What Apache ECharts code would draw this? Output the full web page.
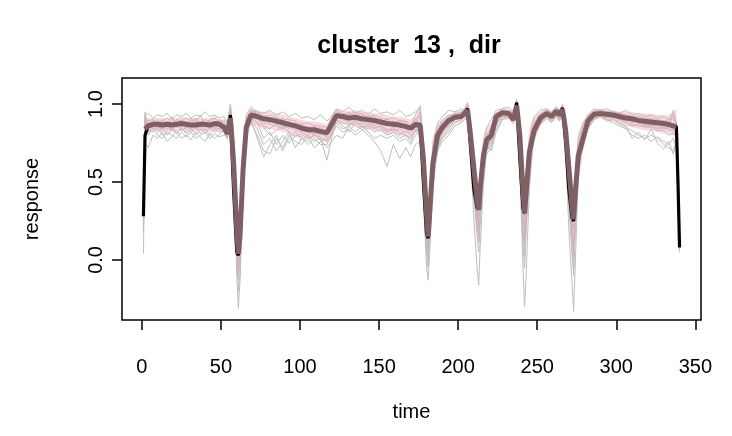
<!DOCTYPE html>
<html><head><meta charset="utf-8">
<script src="https://cdn.jsdelivr.net/npm/echarts@6/dist/echarts.min.js"></script>
<style>html,body{margin:0;padding:0;background:#fff}#c{width:732px;height:436px}</style>
</head><body><div id="c"></div>
<script>
const time = [
1, 2, 4, 7, 10, 13, 16, 19, 22, 25,
28, 31, 34, 37, 40, 43, 46, 49, 52, 54,
56, 58, 60, 61, 62, 64, 66, 69, 73, 77,
81, 85, 89, 93, 97, 101, 105, 109, 113, 117,
120, 123, 127, 131, 135, 139, 143, 147, 151, 155,
159, 163, 167, 170, 173, 176, 178, 180, 181, 182,
184, 187, 190, 194, 198, 202, 204, 206, 208, 210,
212, 213, 214, 216, 218, 221, 224, 228, 232, 235,
237, 239, 241, 242, 243, 245, 248, 252, 256, 259,
262, 264, 266, 268, 270, 272, 273, 274, 276, 279,
282, 286, 290, 294, 298, 302, 306, 310, 314, 318,
322, 326, 330, 333, 336, 338, 339, 340];

const meanResp = [
null, 0.84, 0.86, 0.87, 0.87, 0.865, 0.87, 0.865, 0.87, 0.875,
0.87, 0.865, 0.865, 0.87, 0.87, 0.865, 0.875, 0.87, 0.85, 0.81,
0.91, 0.63, 0.20, 0.04, 0.15, 0.58, 0.85, 0.93, 0.92, 0.905,
0.90, 0.89, 0.88, 0.87, 0.86, 0.845, 0.835, 0.835, 0.825, 0.815,
0.87, 0.925, 0.92, 0.91, 0.915, 0.905, 0.90, 0.895, 0.885, 0.875,
0.87, 0.865, 0.855, 0.845, 0.87, 0.86, 0.65, 0.30, 0.15, 0.30,
0.62, 0.80, 0.85, 0.895, 0.915, 0.92, 0.94, 0.96, 0.78, 0.58,
0.38, 0.32, 0.47, 0.67, 0.77, 0.80, 0.92, 0.945, 0.94, 0.90,
0.99, 0.80, 0.44, 0.30, 0.43, 0.69, 0.83, 0.91, 0.94, 0.92,
0.955, 0.93, 0.965, 0.83, 0.59, 0.35, 0.26, 0.42, 0.67, 0.78,
0.89, 0.935, 0.94, 0.935, 0.93, 0.92, 0.91, 0.905, 0.895, 0.89,
0.885, 0.88, 0.875, 0.87, 0.86, 0.855, null, null];

const bandLow = [
null, 0.78, 0.81, 0.83, 0.83, 0.82, 0.83, 0.82, 0.83, 0.83,
0.83, 0.82, 0.82, 0.83, 0.83, 0.82, 0.83, 0.83, 0.81, 0.76,
0.84, 0.45, 0.02, -0.07, -0.03, 0.40, 0.75, 0.88, 0.86, 0.84,
0.84, 0.83, 0.82, 0.81, 0.80, 0.79, 0.78, 0.78, 0.77, 0.75,
0.80, 0.87, 0.87, 0.86, 0.86, 0.85, 0.84, 0.83, 0.82, 0.80,
0.81, 0.80, 0.79, 0.78, 0.82, 0.80, 0.45, 0.15, 0.08, 0.12,
0.45, 0.72, 0.80, 0.85, 0.88, 0.88, 0.90, 0.90, 0.65, 0.40,
0.22, 0.12, 0.28, 0.55, 0.70, 0.74, 0.87, 0.91, 0.90, 0.86,
0.93, 0.60, 0.20, 0.05, 0.15, 0.45, 0.75, 0.86, 0.90, 0.88,
0.91, 0.89, 0.92, 0.70, 0.40, 0.10, -0.03, 0.15, 0.50, 0.70,
0.83, 0.90, 0.91, 0.90, 0.89, 0.88, 0.86, 0.85, 0.84, 0.83,
0.83, 0.82, 0.81, 0.81, 0.80, 0.78, null, null];

const bandHigh = [
null, 0.90, 0.91, 0.91, 0.91, 0.91, 0.91, 0.91, 0.91, 0.92,
0.91, 0.91, 0.91, 0.91, 0.91, 0.91, 0.92, 0.91, 0.89, 0.86,
1.01, 0.85, 0.45, 0.20, 0.35, 0.75, 0.93, 0.97, 0.96, 0.95,
0.95, 0.94, 0.93, 0.92, 0.91, 0.90, 0.89, 0.89, 0.88, 0.87,
0.93, 0.97, 0.96, 0.95, 0.96, 0.95, 0.95, 0.94, 0.94, 0.93,
0.92, 0.92, 0.91, 0.90, 0.92, 0.98, 0.85, 0.50, 0.25, 0.48,
0.78, 0.88, 0.90, 0.93, 0.95, 0.96, 0.97, 1.00, 0.92, 0.75,
0.55, 0.45, 0.62, 0.80, 0.85, 0.88, 0.95, 0.97, 0.97, 0.95,
1.03, 0.92, 0.62, 0.50, 0.62, 0.85, 0.92, 0.95, 0.97, 0.95,
0.99, 0.97, 1.00, 0.93, 0.75, 0.55, 0.45, 0.65, 0.82, 0.88,
0.94, 0.96, 0.97, 0.96, 0.96, 0.95, 0.95, 0.95, 0.94, 0.94,
0.94, 0.93, 0.93, 0.93, 0.95, 0.97, null, null];

const centerResp = [
0.28, 0.80, 0.86, 0.87, 0.87, 0.865, 0.87, 0.865, 0.87, 0.875,
0.87, 0.865, 0.865, 0.87, 0.87, 0.865, 0.875, 0.87, 0.85, 0.81,
0.93, 0.45, 0.05, 0.03, 0.12, 0.55, 0.85, 0.93, 0.92, 0.905,
0.90, 0.89, 0.88, 0.87, 0.86, 0.845, 0.835, 0.835, 0.825, 0.815,
0.87, 0.925, 0.92, 0.91, 0.915, 0.905, 0.90, 0.895, 0.885, 0.875,
0.87, 0.865, 0.855, 0.845, 0.87, 0.87, 0.50, 0.17, 0.14, 0.28,
0.62, 0.80, 0.85, 0.895, 0.915, 0.92, 0.945, 0.97, 0.70, 0.45,
0.33, 0.32, 0.47, 0.67, 0.77, 0.80, 0.92, 0.945, 0.94, 0.90,
1.01, 0.65, 0.33, 0.30, 0.43, 0.69, 0.83, 0.91, 0.94, 0.92,
0.955, 0.93, 0.975, 0.75, 0.45, 0.27, 0.25, 0.42, 0.67, 0.78,
0.89, 0.935, 0.94, 0.935, 0.93, 0.92, 0.91, 0.905, 0.895, 0.89,
0.885, 0.88, 0.875, 0.87, 0.86, 0.855, 0.50, 0.08];

const member1 = [
0.25, 0.93, 0.94, 0.91, 0.93, 0.92, 0.94, 0.90, 0.93, 0.92,
0.94, 0.91, 0.93, 0.92, 0.95, 0.92, 0.93, 0.91, 0.92, 0.88,
1.00, 0.80, 0.30, 0.10, 0.20, 0.70, 0.93, 0.98, 0.95, 0.94,
0.96, 0.93, 0.95, 0.92, 0.94, 0.91, 0.92, 0.90, 0.93, 0.89,
0.92, 0.97, 0.95, 0.98, 0.94, 0.96, 0.93, 0.97, 0.94, 0.95,
0.93, 0.96, 0.92, 0.93, 0.95, 0.97, 0.70, 0.35, 0.22, 0.40,
0.75, 0.88, 0.92, 0.96, 0.95, 0.97, 0.96, 1.00, 0.85, 0.60,
0.45, 0.40, 0.55, 0.75, 0.85, 0.90, 0.96, 0.97, 0.98, 0.95,
1.02, 0.85, 0.50, 0.38, 0.50, 0.78, 0.92, 0.96, 0.97, 0.95,
0.98, 0.96, 0.99, 0.88, 0.62, 0.40, 0.30, 0.45, 0.78, 0.88,
0.93, 0.97, 0.96, 0.97, 0.95, 0.94, 0.96, 0.93, 0.94, 0.92,
0.93, 0.91, 0.92, 0.90, 0.93, 0.88, 0.50, 0.10];

const member2 = [
0.04, 0.75, 0.72, 0.80, 0.78, 0.82, 0.76, 0.79, 0.83, 0.78,
0.80, 0.77, 0.82, 0.79, 0.76, 0.81, 0.78, 0.80, 0.84, 0.78,
0.88, 0.60, 0.05, -0.20, -0.10, 0.45, 0.80, 0.88, 0.80, 0.70,
0.68, 0.78, 0.72, 0.80, 0.76, 0.74, 0.79, 0.72, 0.76, 0.78,
0.80, 0.88, 0.84, 0.86, 0.89, 0.85, 0.87, 0.84, 0.86, 0.83,
0.85, 0.82, 0.80, 0.78, 0.84, 0.80, 0.45, 0.05, -0.05, 0.15,
0.50, 0.74, 0.80, 0.86, 0.90, 0.92, 0.93, 0.90, 0.70, 0.40,
0.15, 0.05, 0.25, 0.55, 0.72, 0.78, 0.88, 0.92, 0.93, 0.90,
0.96, 0.55, 0.10, -0.05, 0.20, 0.55, 0.80, 0.88, 0.92, 0.90,
0.93, 0.90, 0.94, 0.72, 0.35, 0.05, -0.10, 0.20, 0.60, 0.75,
0.87, 0.92, 0.93, 0.91, 0.92, 0.90, 0.88, 0.86, 0.87, 0.85,
0.86, 0.84, 0.85, 0.83, 0.84, 0.82, 0.40, 0.06];

const member3 = [
0.20, 0.88, 0.85, 0.88, 0.86, 0.84, 0.89, 0.86, 0.85, 0.88,
0.86, 0.84, 0.87, 0.85, 0.88, 0.86, 0.84, 0.87, 0.86, 0.84,
0.93, 0.70, 0.15, -0.02, 0.05, 0.55, 0.86, 0.92, 0.90, 0.88,
0.87, 0.86, 0.84, 0.86, 0.83, 0.82, 0.80, 0.84, 0.81, 0.79,
0.86, 0.92, 0.90, 0.88, 0.86, 0.84, 0.80, 0.76, 0.70, 0.60,
0.74, 0.65, 0.72, 0.66, 0.74, 0.76, 0.55, 0.25, 0.10, 0.20,
0.55, 0.76, 0.82, 0.87, 0.90, 0.91, 0.93, 0.95, 0.82, 0.55,
0.35, 0.28, 0.40, 0.62, 0.72, 0.76, 0.87, 0.92, 0.92, 0.88,
0.97, 0.78, 0.40, 0.28, 0.40, 0.68, 0.82, 0.90, 0.93, 0.91,
0.95, 0.92, 0.96, 0.84, 0.58, 0.30, 0.20, 0.35, 0.65, 0.76,
0.88, 0.93, 0.94, 0.92, 0.93, 0.91, 0.90, 0.89, 0.88, 0.87,
0.86, 0.87, 0.85, 0.86, 0.84, 0.83, 0.45, 0.09];

const member4 = [
0.18, 0.85, 0.88, 0.86, 0.89, 0.87, 0.85, 0.88, 0.87, 0.86,
0.88, 0.86, 0.85, 0.88, 0.87, 0.85, 0.88, 0.86, 0.83, 0.80,
0.96, 0.55, -0.10, -0.31, -0.15, 0.40, 0.82, 0.95, 0.93, 0.92,
0.91, 0.90, 0.89, 0.88, 0.87, 0.86, 0.85, 0.84, 0.85, 0.82,
0.90, 0.94, 0.93, 0.92, 0.93, 0.91, 0.92, 0.90, 0.90, 0.88,
0.89, 0.88, 0.87, 0.86, 0.90, 0.88, 0.40, -0.05, -0.13, 0.05,
0.45, 0.78, 0.85, 0.90, 0.93, 0.95, 0.96, 0.93, 0.65, 0.25,
-0.05, -0.16, 0.10, 0.48, 0.70, 0.82, 0.94, 0.95, 0.96, 0.94,
0.98, 0.60, -0.05, -0.30, -0.10, 0.45, 0.85, 0.93, 0.95, 0.93,
0.97, 0.94, 0.98, 0.70, 0.20, -0.15, -0.33, -0.05, 0.55, 0.80,
0.92, 0.95, 0.95, 0.94, 0.93, 0.93, 0.92, 0.91, 0.90, 0.90,
0.89, 0.88, 0.88, 0.87, 0.87, 0.86, 0.55, 0.12];

const member5 = [
0.30, 0.95, 0.84, 0.90, 0.85, 0.90, 0.87, 0.92, 0.86, 0.90,
0.85, 0.91, 0.88, 0.93, 0.86, 0.90, 0.91, 0.88, 0.90, 0.86,
0.97, 0.75, 0.25, 0.05, 0.10, 0.62, 0.90, 0.96, 0.93, 0.90,
0.88, 0.92, 0.87, 0.89, 0.85, 0.88, 0.83, 0.86, 0.82, 0.84,
0.91, 0.96, 0.93, 0.95, 0.92, 0.94, 0.91, 0.92, 0.88, 0.91,
0.86, 0.90, 0.88, 0.85, 0.93, 0.99, 0.75, 0.35, 0.18, 0.30,
0.68, 0.84, 0.90, 0.93, 0.92, 0.95, 0.97, 1.01, 0.88, 0.65,
0.45, 0.35, 0.50, 0.70, 0.80, 0.85, 0.93, 0.96, 0.95, 0.96,
1.01, 0.90, 0.55, 0.35, 0.45, 0.72, 0.88, 0.94, 0.96, 0.94,
0.97, 0.95, 0.99, 0.92, 0.72, 0.45, 0.30, 0.40, 0.74, 0.86,
0.92, 0.96, 0.95, 0.93, 0.94, 0.92, 0.93, 0.90, 0.91, 0.88,
0.90, 0.87, 0.89, 0.86, 0.96, 0.88, 0.48, 0.08];

const member6 = [
0.26, 0.82, 0.86, 0.84, 0.86, 0.83, 0.86, 0.84, 0.87, 0.83,
0.85, 0.87, 0.84, 0.86, 0.83, 0.88, 0.85, 0.84, 0.86, 0.83,
0.90, 0.68, 0.10, -0.10, 0.00, 0.50, 0.84, 0.90, 0.78, 0.66,
0.74, 0.80, 0.70, 0.78, 0.82, 0.77, 0.80, 0.76, 0.78, 0.64,
0.78, 0.90, 0.86, 0.82, 0.88, 0.86, 0.84, 0.88, 0.85, 0.82,
0.84, 0.80, 0.83, 0.80, 0.82, 0.86, 0.60, 0.20, 0.05, 0.12,
0.52, 0.72, 0.78, 0.84, 0.90, 0.92, 0.94, 0.92, 0.75, 0.45,
0.22, 0.15, 0.30, 0.58, 0.68, 0.72, 0.86, 0.93, 0.94, 0.92,
0.97, 0.70, 0.25, 0.10, 0.25, 0.60, 0.78, 0.89, 0.93, 0.90,
0.94, 0.91, 0.95, 0.78, 0.45, 0.15, 0.05, 0.25, 0.62, 0.74,
0.86, 0.92, 0.93, 0.90, 0.91, 0.88, 0.86, 0.78, 0.82, 0.77,
0.84, 0.75, 0.71, 0.76, 0.68, 0.75, 0.35, 0.05];

const member7 = [
0.22, 0.87, 0.90, 0.87, 0.84, 0.88, 0.86, 0.83, 0.88, 0.87,
0.84, 0.88, 0.86, 0.83, 0.88, 0.84, 0.87, 0.89, 0.84, 0.82,
0.92, 0.72, 0.20, 0.00, 0.12, 0.58, 0.86, 0.94, 0.91, 0.86,
0.84, 0.88, 0.91, 0.84, 0.88, 0.84, 0.86, 0.82, 0.80, 0.83,
0.84, 0.93, 0.91, 0.89, 0.93, 0.88, 0.90, 0.86, 0.89, 0.87,
0.88, 0.85, 0.86, 0.84, 0.86, 0.84, 0.62, 0.28, 0.12, 0.25,
0.60, 0.80, 0.86, 0.91, 0.93, 0.90, 0.95, 0.96, 0.78, 0.50,
0.30, 0.25, 0.38, 0.66, 0.78, 0.80, 0.90, 0.94, 0.93, 0.91,
0.99, 0.80, 0.35, 0.20, 0.35, 0.65, 0.84, 0.91, 0.95, 0.92,
0.96, 0.93, 0.97, 0.86, 0.55, 0.25, 0.12, 0.30, 0.66, 0.79,
0.90, 0.94, 0.95, 0.92, 0.94, 0.91, 0.91, 0.88, 0.89, 0.86,
0.87, 0.85, 0.84, 0.85, 0.82, 0.80, 0.42, 0.07];

const member8 = [
0.24, 0.90, 0.80, 0.84, 0.80, 0.78, 0.82, 0.80, 0.78, 0.82,
0.79, 0.82, 0.78, 0.80, 0.82, 0.78, 0.81, 0.79, 0.80, 0.79,
0.95, 0.65, 0.15, -0.05, 0.08, 0.52, 0.84, 0.92, 0.88, 0.78,
0.82, 0.74, 0.80, 0.75, 0.80, 0.79, 0.76, 0.81, 0.77, 0.72,
0.76, 0.80, 0.78, 0.86, 0.82, 0.86, 0.82, 0.78, 0.80, 0.78,
0.80, 0.76, 0.78, 0.74, 0.80, 0.82, 0.58, 0.22, 0.08, 0.18,
0.48, 0.70, 0.76, 0.80, 0.86, 0.88, 0.90, 0.94, 0.80, 0.55,
0.30, 0.22, 0.35, 0.60, 0.74, 0.70, 0.82, 0.90, 0.91, 0.89,
0.95, 0.75, 0.30, 0.15, 0.30, 0.62, 0.80, 0.87, 0.91, 0.88,
0.92, 0.89, 0.93, 0.80, 0.50, 0.20, 0.08, 0.22, 0.60, 0.72,
0.84, 0.90, 0.92, 0.89, 0.90, 0.87, 0.85, 0.83, 0.80, 0.78,
0.80, 0.78, 0.74, 0.72, 0.70, 0.76, 0.38, 0.05];

const member9 = [
0.27, 0.91, 0.89, 0.90, 0.88, 0.89, 0.91, 0.88, 0.90, 0.89,
0.91, 0.89, 0.90, 0.88, 0.90, 0.89, 0.91, 0.88, 0.88, 0.84,
0.94, 0.72, 0.22, 0.06, 0.18, 0.64, 0.90, 0.96, 0.95, 0.92,
0.93, 0.91, 0.90, 0.90, 0.89, 0.87, 0.88, 0.86, 0.86, 0.85,
0.90, 0.95, 0.94, 0.93, 0.95, 0.93, 0.92, 0.93, 0.91, 0.90,
0.91, 0.89, 0.89, 0.87, 0.90, 0.92, 0.68, 0.32, 0.16, 0.32,
0.66, 0.84, 0.88, 0.92, 0.94, 0.94, 0.96, 0.98, 0.82, 0.60,
0.40, 0.33, 0.50, 0.70, 0.80, 0.84, 0.94, 0.96, 0.95, 0.93,
1.00, 0.82, 0.45, 0.32, 0.48, 0.74, 0.87, 0.93, 0.96, 0.94,
0.97, 0.95, 0.98, 0.86, 0.62, 0.36, 0.25, 0.44, 0.72, 0.82,
0.91, 0.95, 0.96, 0.95, 0.95, 0.94, 0.93, 0.92, 0.92, 0.91,
0.91, 0.90, 0.89, 0.90, 0.90, 0.87, 0.46, 0.09];

const member10 = [
0.21, 0.80, 0.84, 0.82, 0.85, 0.80, 0.83, 0.86, 0.81, 0.84,
0.82, 0.85, 0.80, 0.84, 0.81, 0.85, 0.82, 0.84, 0.82, 0.79,
0.89, 0.62, 0.12, -0.08, 0.02, 0.50, 0.82, 0.91, 0.88, 0.85,
0.80, 0.83, 0.86, 0.82, 0.79, 0.81, 0.78, 0.80, 0.79, 0.76,
0.82, 0.90, 0.88, 0.87, 0.90, 0.87, 0.88, 0.85, 0.86, 0.84,
0.83, 0.84, 0.82, 0.82, 0.85, 0.83, 0.60, 0.18, 0.02, 0.20,
0.55, 0.76, 0.83, 0.88, 0.91, 0.91, 0.92, 0.93, 0.74, 0.48,
0.25, 0.18, 0.32, 0.62, 0.74, 0.76, 0.88, 0.93, 0.92, 0.90,
0.96, 0.72, 0.28, 0.10, 0.28, 0.62, 0.80, 0.89, 0.93, 0.90,
0.94, 0.91, 0.95, 0.80, 0.48, 0.18, 0.02, 0.25, 0.62, 0.76,
0.88, 0.93, 0.93, 0.92, 0.92, 0.90, 0.89, 0.87, 0.86, 0.86,
0.85, 0.83, 0.83, 0.80, 0.81, 0.80, 0.40, 0.06];

const member11 = [
0.28, 0.92, 0.87, 0.85, 0.90, 0.86, 0.84, 0.87, 0.90, 0.85,
0.89, 0.86, 0.91, 0.87, 0.85, 0.88, 0.86, 0.90, 0.88, 0.85,
0.98, 0.62, 0.15, -0.12, 0.02, 0.48, 0.84, 0.96, 0.94, 0.91,
0.90, 0.87, 0.85, 0.87, 0.85, 0.84, 0.82, 0.81, 0.84, 0.81,
0.88, 0.94, 0.91, 0.94, 0.90, 0.92, 0.88, 0.91, 0.87, 0.89,
0.87, 0.87, 0.84, 0.86, 0.88, 0.95, 0.58, 0.12, 0.00, 0.22,
0.58, 0.82, 0.87, 0.90, 0.92, 0.93, 0.96, 0.99, 0.80, 0.45,
0.22, 0.12, 0.30, 0.62, 0.76, 0.82, 0.91, 0.95, 0.95, 0.92,
1.03, 0.72, 0.20, 0.02, 0.22, 0.62, 0.84, 0.92, 0.95, 0.93,
0.96, 0.94, 1.00, 0.78, 0.40, 0.08, -0.05, 0.18, 0.60, 0.80,
0.90, 0.95, 0.94, 0.93, 0.93, 0.92, 0.90, 0.90, 0.88, 0.88,
0.87, 0.86, 0.86, 0.84, 0.94, 0.84, 0.44, 0.07];

const member12 = [
0.23, 0.86, 0.82, 0.86, 0.82, 0.85, 0.80, 0.84, 0.81, 0.85,
0.81, 0.83, 0.85, 0.81, 0.84, 0.80, 0.84, 0.82, 0.83, 0.80,
0.92, 0.66, 0.18, -0.02, 0.06, 0.55, 0.83, 0.90, 0.84, 0.74,
0.78, 0.70, 0.76, 0.82, 0.72, 0.78, 0.74, 0.78, 0.74, 0.74,
0.80, 0.86, 0.82, 0.84, 0.80, 0.83, 0.86, 0.82, 0.84, 0.80,
0.82, 0.78, 0.80, 0.76, 0.83, 0.84, 0.56, 0.20, 0.06, 0.16,
0.50, 0.72, 0.78, 0.82, 0.88, 0.90, 0.92, 0.92, 0.76, 0.52,
0.28, 0.20, 0.34, 0.58, 0.70, 0.74, 0.84, 0.91, 0.92, 0.90,
0.96, 0.76, 0.32, 0.18, 0.32, 0.62, 0.79, 0.88, 0.92, 0.89,
0.93, 0.90, 0.94, 0.82, 0.52, 0.22, 0.10, 0.26, 0.62, 0.73,
0.85, 0.91, 0.92, 0.90, 0.88, 0.86, 0.84, 0.80, 0.78, 0.80,
0.76, 0.79, 0.76, 0.74, 0.78, 0.72, 0.36, 0.05];

const members = [member1, member2, member3, member4, member5, member6,
                 member7, member8, member9, member10, member11, member12];
const xTicks = [0, 50, 100, 150, 200, 250, 300, 350];
const yTicks = [0, 0.5, 1];
const titleText = 'cluster  13 ,  dir';
const xName = 'time';
const yName = 'response';

[meanResp, bandLow, bandHigh, centerResp].concat(members).forEach(function (a, i) {
  if (a.length !== time.length) throw new Error('length mismatch in array ' + i + ': ' + a.length + ' vs ' + time.length);
});

function pairs(vals) {
  const out = [];
  for (let i = 0; i < time.length; i++) if (vals[i] !== null) out.push([time[i], vals[i]]);
  return out;
}

const FONT = 'Liberation Sans, Arial, Helvetica, sans-serif';
const chart = echarts.init(document.getElementById('c'), null, { renderer: 'canvas' });

const series = [];
members.forEach(function (m, k) {
  series.push({
    type: 'line', name: 'member' + (k + 1), data: pairs(m), showSymbol: false, silent: true,
    lineStyle: { color: '#BEBEBE', width: 1 }, z: 2, animation: false
  });
});
series.push({
  type: 'custom', name: 'band', z: 3, silent: true, animation: false,
  data: [0],
  renderItem: function (params, api) {
    const pts = [];
    for (let i = 0; i < time.length; i++) if (bandHigh[i] !== null) pts.push(api.coord([time[i], bandHigh[i]]));
    for (let i = time.length - 1; i >= 0; i--) if (bandLow[i] !== null) pts.push(api.coord([time[i], bandLow[i]]));
    return {
      type: 'polygon', shape: { points: pts },
      style: { fill: 'rgba(238,170,182,0.42)', stroke: null },
      clipPath: { type: 'rect', shape: { x: params.coordSys.x, y: params.coordSys.y, width: params.coordSys.width, height: params.coordSys.height } }
    };
  }
});
series.push({
  type: 'line', name: 'center', data: pairs(centerResp), showSymbol: false, silent: true,
  lineStyle: { color: '#000000', width: 3.2 }, z: 4, animation: false
});
series.push({
  type: 'line', name: 'mean', data: pairs(meanResp), showSymbol: false, silent: true,
  lineStyle: { color: '#7E6064', width: 5 }, z: 5, animation: false
});

chart.setOption({
  backgroundColor: '#ffffff',
  animation: false,
  title: {
    text: titleText, left: 404, top: 29, textAlign: 'center',
    textStyle: { fontFamily: FONT, fontSize: 25, fontWeight: 'bold', color: '#000' }
  },
  grid: {
    left: 122, right: 31, top: 78, bottom: 116, show: true,
    borderColor: '#000', borderWidth: 1.5, backgroundColor: 'transparent', containLabel: false
  },
  xAxis: {
    type: 'value', min: -12.56, max: 353.56, position: 'bottom',
    name: xName, nameLocation: 'middle', nameGap: 82,
    nameTextStyle: { fontFamily: FONT, fontSize: 20, color: '#000' },
    axisLine: { show: false, onZero: false },
    splitLine: { show: false },
    axisTick: { show: true, inside: false, customValues: xTicks, length: 10, lineStyle: { color: '#000', width: 1.5 } },
    axisLabel: { customValues: xTicks, margin: 37, fontFamily: FONT, fontSize: 20, color: '#000' }
  },
  yAxis: {
    type: 'value', min: -0.385, max: 1.167, position: 'left',
    name: yName, nameLocation: 'middle', nameGap: 80, nameRotate: 90,
    nameTextStyle: { fontFamily: FONT, fontSize: 20, color: '#000' },
    axisLine: { show: false, onZero: false },
    splitLine: { show: false },
    axisTick: { show: true, inside: false, customValues: yTicks, length: 10, lineStyle: { color: '#000', width: 1.5 } },
    axisLabel: {
      customValues: yTicks, rotate: 90, margin: 16, fontFamily: FONT, fontSize: 20, color: '#000',
      formatter: function (v) { return Number(v).toFixed(1); }
    }
  },
  series: series
});
</script>
</body></html>
